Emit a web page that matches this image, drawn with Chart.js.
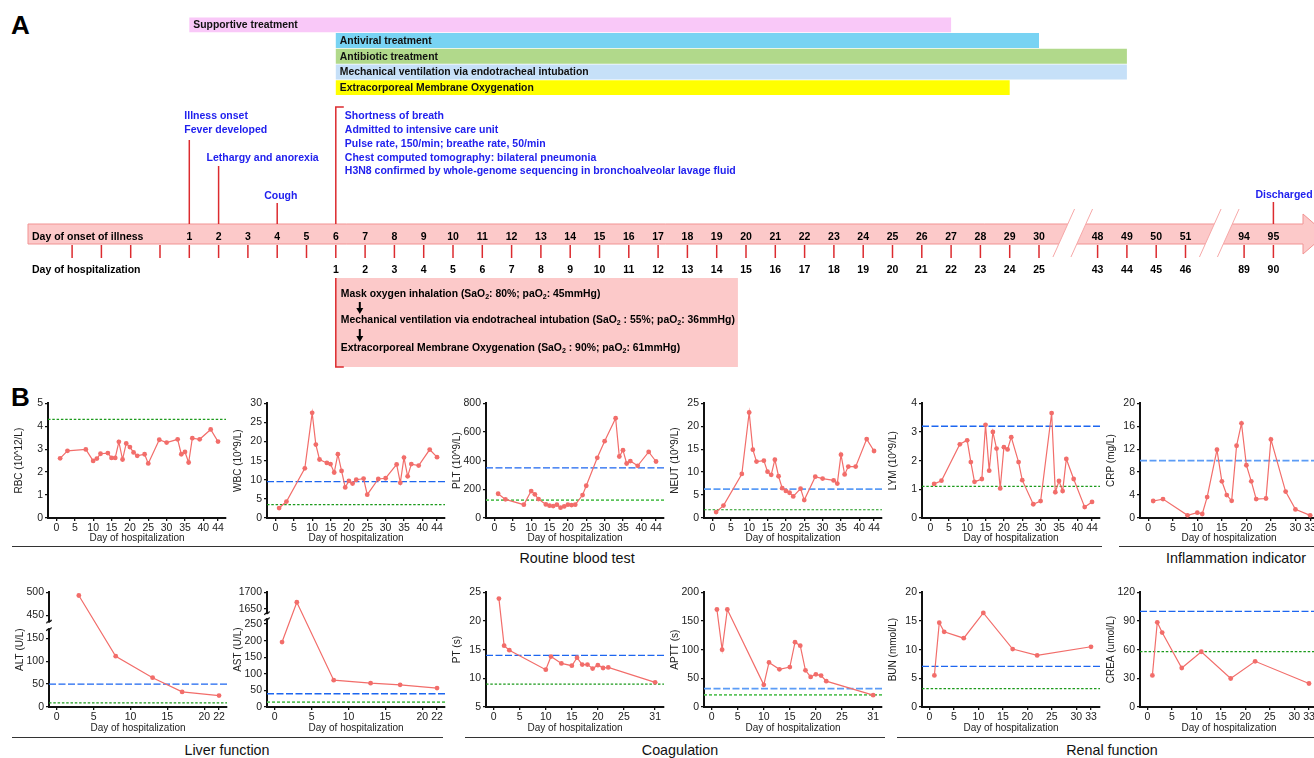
<!DOCTYPE html>
<html>
<head>
<meta charset="utf-8">
<title>H3N8 case: clinical course and laboratory findings</title>
<script src="https://cdn.jsdelivr.net/npm/chart.js"></script>
<style>
  body { margin: 0; width: 1314px; height: 758px; overflow: hidden; background: #fff; position: relative;
         font-family: "Liberation Sans", Arial, Helvetica, sans-serif; }
  canvas { position: absolute; }
  .tag { position: absolute; font-weight: bold; font-size: 26px; line-height: 26px; color: #000; }
  .sec { position: absolute; height: 0; border-top: 1.5px solid #333; }
  .sect { position: absolute; font-size: 14.3px; line-height: 16px; color: #111; white-space: nowrap; transform: translateX(-50%); }
</style>
</head>
<body>
<div class="tag" style="left:11px;top:12px">A</div>
<div class="tag" style="left:11px;top:384px">B</div>
<canvas id="timeline" width="1314" height="380" style="left:0;top:0"></canvas>

<div class="sec" style="left:12px;top:546px;width:1090px"></div>
<div class="sec" style="left:1119px;top:546px;width:195px"></div>
<div class="sect" style="left:577px;top:550px">Routine blood test</div>
<div class="sect" style="left:1236px;top:550px">Inflammation indicator</div>
<div class="sec" style="left:12px;top:737px;width:431px"></div>
<div class="sec" style="left:465px;top:737px;width:420px"></div>
<div class="sec" style="left:897px;top:737px;width:417px"></div>
<div class="sect" style="left:227px;top:742px">Liver function</div>
<div class="sect" style="left:680px;top:742px">Coagulation</div>
<div class="sect" style="left:1112px;top:742px">Renal function</div>

<script>
// ---------- Panel A: clinical course ----------
const treatLabels = ['Supportive treatment', 'Antiviral treatment', 'Antibiotic treatment',
  'Mechanical ventilation via endotracheal intubation', 'Extracorporeal Membrane Oxygenation'];
const treatStart = [1, 6, 6, 6, 6];        // day of onset
const treatEnd = [27, 30, 49, 49, 29];
const onsetDays = [1, 2, 3, 4, 5, 6, 7, 8, 9, 10, 11, 12, 13, 14, 15, 16, 17, 18, 19, 20,
  21, 22, 23, 24, 25, 26, 27, 28, 29, 30, 48, 49, 50, 51, 94, 95];
const preOnsetTicks = [-3, -2, -1, 0];
const admissionDay = 6;                    // onset day 6 = hospital day 1
const eventDays = [1, 2, 4, 6, 95];
const eventTexts = [
  ['Illness onset', 'Fever developed'],
  ['Lethargy and anorexia'],
  ['Cough'],
  ['Shortness of breath', 'Admitted to intensive care unit', 'Pulse rate, 150/min; breathe rate, 50/min',
   'Chest computed tomography: bilateral pneumonia',
   'H3N8 confirmed by whole-genome sequencing in bronchoalveolar lavage fluid'],
  ['Discharged']
];
const respSupport = [
  [['Mask oxygen inhalation (SaO'], ['2', 1], [': 80%; paO'], ['2', 1], [': 45mmHg)']],
  [['Mechanical ventilation via endotracheal intubation (SaO'], ['2', 1], [' : 55%; paO'], ['2', 1], [': 36mmHg)']],
  [['Extracorporeal Membrane Oxygenation (SaO'], ['2', 1], [' : 90%; paO'], ['2', 1], [': 61mmHg)']]
];

// ---------- Panel B: laboratory values (day of hospitalization) ----------
const bloodDays = [1, 3, 8, 10, 11, 12, 14, 15, 16, 17, 18, 19, 20, 21, 22, 24, 25, 28, 30, 33, 34, 35, 36, 37, 39, 42, 44];
const rbc  = [2.6, 2.93, 2.99, 2.49, 2.59, 2.8, 2.83, 2.62, 2.62, 3.32, 2.55, 3.25, 3.09, 2.86, 2.71, 2.78, 2.38, 3.41, 3.29, 3.43, 2.78, 2.88, 2.42, 3.48, 3.43, 3.86, 3.33];
const wbc  = [2.6, 4.3, 13.0, 27.5, 19.2, 15.3, 14.4, 14.1, 11.9, 16.7, 12.3, 8.0, 9.7, 9.0, 10.0, 10.3, 6.1, 10.2, 10.4, 14.0, 9.2, 15.8, 10.9, 14.1, 13.7, 17.9, 15.9];
const plt  = [169, 130, 93, 188, 165, 132, 95, 86, 83, 93, 72, 81, 93, 90, 93, 160, 225, 420, 536, 696, 429, 473, 380, 397, 364, 461, 394];
const neut = [1.3, 2.7, 9.6, 23.0, 14.9, 12.3, 12.5, 10.1, 9.4, 12.7, 9.1, 6.5, 5.9, 5.5, 4.7, 6.4, 3.9, 9.0, 8.6, 8.2, 7.5, 13.8, 9.5, 11.2, 11.2, 17.2, 14.6];
const lym  = [1.19, 1.30, 2.57, 2.71, 1.95, 1.26, 1.36, 3.25, 1.65, 3.00, 2.42, 1.03, 2.47, 2.39, 2.82, 1.95, 1.32, 0.48, 0.59, 3.66, 0.90, 1.29, 0.94, 2.06, 1.36, 0.38, 0.56];
const crpDays = [1, 3, 8, 10, 11, 12, 14, 15, 16, 17, 18, 19, 20, 21, 22, 24, 25, 28, 30, 33];
const crp  = [2.96, 3.3, 0.46, 0.93, 0.70, 3.65, 11.9, 6.4, 4.0, 3.0, 12.6, 16.5, 9.2, 6.4, 3.3, 3.4, 13.7, 4.6, 1.5, 0.46];
const altDays = [3, 8, 13, 17, 22];
const alt  = [493, 111, 64, 33, 25];
const astDays = [1, 3, 8, 13, 17, 22];
const ast  = [196, 1670, 81, 72, 67, 57];
const coagDays = [1, 2, 3, 10, 11, 13, 15, 16, 17, 18, 19, 20, 21, 22, 31];
const pt   = [23.9, 15.7, 14.9, 11.5, 13.8, 12.6, 12.2, 13.6, 12.4, 12.4, 11.7, 12.3, 11.8, 11.9, 9.3];
const aptt = [170, 100, 170, 38.6, 77.8, 65.7, 69.7, 113, 107, 64, 52.4, 57, 54.8, 45, 20.7];
const renalDays = [1, 2, 3, 7, 11, 17, 22, 33];
const bun  = [5.5, 14.7, 13.1, 12.0, 16.4, 10.1, 9.0, 10.5];
const crea = [33, 88.6, 77.9, 40.8, 57.8, 29.8, 47.8, 24.6];

// reference limits (upper / lower)
const rbcRef = [4.3], wbcRef = [9.5, 3.5], pltRef = [350, 125], neutRef = [6.3, 1.8], lymRef = [3.2, 1.1];
const crpRef = [10], altRef = [50, 9], astRef = [40, 15], ptRef = [14, 9], apttRef = [32, 21];
const bunRef = [7.1, 3.2], creaRef = [100, 58];

// tick labels
const ticks44 = [0, 5, 10, 15, 20, 25, 30, 35, 40, 44];
const ticks33 = [0, 5, 10, 15, 20, 25, 30, 33];
const ticks31 = [0, 5, 10, 15, 20, 25, 31];
const ticks22 = [0, 5, 10, 15, 20, 22];
const altTicks = [0, 50, 100, 150, 450, 500];
const astTicks = [0, 50, 100, 150, 200, 250, 1650, 1700];

const FONT = '"Liberation Sans", Arial, Helvetica, sans-serif';
Chart.defaults.font.family = FONT;
Chart.defaults.color = '#222';

// ---------- timeline ----------
// compressed onset axis: days 31-47 and 52-93 are cut out
function pos(d) { return d <= 30 ? d : d <= 51 ? d - 16 : d - 57; }
const TL_STEP = 29.3, TL_DAY1 = 189.3;
const TL_MIN = 1 - TL_DAY1 / TL_STEP, TL_MAX = TL_MIN + 1314 / TL_STEP;

function richText(ctx, segs, x, y, size) {
  segs.forEach(([t, sub]) => {
    ctx.font = 'bold ' + (sub ? size * 0.68 : size) + 'px ' + FONT;
    ctx.fillText(t, x, sub ? y + size * 0.3 : y);
    x += ctx.measureText(t).width;
  });
  return x;
}

function downArrow(ctx, x, y0, y1) {
  ctx.beginPath(); ctx.moveTo(x, y0); ctx.lineTo(x, y1 - 5); ctx.lineWidth = 2; ctx.strokeStyle = '#000'; ctx.stroke();
  ctx.beginPath(); ctx.moveTo(x - 3.5, y1 - 6); ctx.lineTo(x + 3.5, y1 - 6); ctx.lineTo(x, y1); ctx.closePath();
  ctx.fillStyle = '#000'; ctx.fill();
}

const timelinePlugin = {
  id: 'timeline',
  afterDatasetsDraw(chart) {
    const ctx = chart.ctx, sx = chart.scales.x;
    const X = d => sx.getPixelForValue(pos(d));
    const RED = '#dc2b2f', BLUE = '#2121ee';
    ctx.save();
    ctx.textBaseline = 'middle';

    // treatment labels
    ctx.font = 'bold 10.4px ' + FONT; ctx.fillStyle = '#111'; ctx.textAlign = 'left';
    chart.getDatasetMeta(0).data.forEach((bar, i) => {
      ctx.fillText(treatLabels[i], Math.min(bar.x, bar.base) + 4, bar.y + 0.5);
    });

    // arrow band
    const bt = 224, bb = 244, bl = 28, br = 1303;
    ctx.beginPath();
    ctx.moveTo(bl, bt); ctx.lineTo(br, bt); ctx.lineTo(br, 214); ctx.lineTo(1326, 234);
    ctx.lineTo(br, 254); ctx.lineTo(br, bb); ctx.lineTo(bl, bb); ctx.closePath();
    ctx.fillStyle = '#fcc9c9'; ctx.fill();
    ctx.strokeStyle = '#f19393'; ctx.lineWidth = 1; ctx.stroke();

    // axis breaks
    [[30, 48], [51, 94]].forEach(([a, b]) => {
      const cx = (X(a) + X(b)) / 2 + 4;
      const xl = y => cx - 9 + (234 - y) * 0.45, xr = y => cx + 9 + (234 - y) * 0.45;
      ctx.beginPath();
      ctx.moveTo(xl(220), 220); ctx.lineTo(xr(220), 220); ctx.lineTo(xr(248), 248); ctx.lineTo(xl(248), 248);
      ctx.closePath(); ctx.fillStyle = '#fff'; ctx.fill();
      ctx.strokeStyle = '#f6a8a8'; ctx.lineWidth = 1;
      [xl, xr].forEach(f => { ctx.beginPath(); ctx.moveTo(f(257), 257); ctx.lineTo(f(209), 209); ctx.stroke(); });
    });

    // ticks below band
    ctx.strokeStyle = RED; ctx.lineWidth = 1.5;
    preOnsetTicks.concat(onsetDays).forEach(d => {
      ctx.beginPath(); ctx.moveTo(X(d), 245); ctx.lineTo(X(d), 258); ctx.stroke();
    });

    // day labels
    ctx.fillStyle = '#000'; ctx.font = 'bold 10.5px ' + FONT;
    ctx.textAlign = 'left';
    ctx.fillText('Day of onset of illness', 32, 236.7);
    ctx.fillText('Day of hospitalization', 32, 270.5);
    ctx.textAlign = 'center';
    onsetDays.forEach(d => {
      ctx.fillText(String(d), X(d), 236.7);
      if (d >= admissionDay) ctx.fillText(String(d - admissionDay + 1), X(d), 270.5);
    });

    // events
    const evLayout = [
      { top: 140, dx: -5, ty: 116 }, { top: 166, dx: -12, ty: 157.7 }, { top: 203, dx: -13, ty: 196 },
      { top: 107, dx: 9, ty: 116, bracket: true }, { top: 202, dx: -18, ty: 195 }
    ];
    eventDays.forEach((d, i) => {
      const x = X(d), L = evLayout[i];
      ctx.strokeStyle = RED; ctx.lineWidth = 1.5;
      ctx.beginPath();
      if (L.bracket) { ctx.moveTo(x + 8, L.top); ctx.lineTo(x, L.top); } else ctx.moveTo(x, L.top);
      ctx.lineTo(x, bt); ctx.stroke();
      ctx.fillStyle = BLUE; ctx.font = 'bold 10.5px ' + FONT; ctx.textAlign = 'left';
      eventTexts[i].forEach((t, j) => ctx.fillText(t, x + L.dx, L.ty + j * 13.9));
    });

    // respiratory support box
    const x6 = X(admissionDay), boxTop = 278, boxBot = 367, tx = x6 + 5;
    let wMax = 0;
    respSupport.forEach(line => {
      let w = 0;
      line.forEach(([t, sub]) => { ctx.font = 'bold ' + (sub ? 10.4 * 0.68 : 10.4) + 'px ' + FONT; w += ctx.measureText(t).width; });
      wMax = Math.max(wMax, w);
    });
    ctx.fillStyle = '#fcc9c9';
    ctx.fillRect(x6, boxTop, tx + wMax + 3 - x6, boxBot - boxTop);
    ctx.strokeStyle = RED; ctx.lineWidth = 1.5;
    ctx.beginPath(); ctx.moveTo(x6, boxTop); ctx.lineTo(x6, boxBot); ctx.lineTo(x6 + 8, boxBot); ctx.stroke();
    ctx.textAlign = 'left';
    const rows = [294, 320, 347.7];
    respSupport.forEach((line, i) => { ctx.fillStyle = '#000'; richText(ctx, line, tx, rows[i], 10.4); });
    downArrow(ctx, tx + 19, 302, 314);
    downArrow(ctx, tx + 19, 329, 342);
    ctx.restore();
  }
};

new Chart(document.getElementById('timeline'), {
  type: 'bar',
  data: {
    labels: treatLabels,
    datasets: [{
      data: treatStart.map((s, i) => [pos(s), pos(treatEnd[i])]),
      backgroundColor: ['#f9c8f8', '#78d3f3', '#b1d98b', '#c6e0f8', '#ffff00'],
      borderWidth: 0, barPercentage: 0.95, categoryPercentage: 1
    }]
  },
  options: {
    indexAxis: 'y', responsive: false, animation: false, events: [],
    layout: { padding: { top: 17, bottom: 380 - 95.5, left: 0, right: 0 } },
    scales: {
      x: { type: 'linear', min: TL_MIN, max: TL_MAX, display: false },
      y: { display: false }
    },
    plugins: { legend: { display: false }, tooltip: { enabled: false } }
  },
  plugins: [timelinePlugin]
});

// ---------- broken linear scale for ALT / AST ----------
class BrokenScale extends Chart.LinearScale {
  _k() {
    const b = this.options.brk;
    return (this.bottom - this.top - b.gap) / ((b.low - this.min) + (this.max - b.high));
  }
  getPixelForValue(v) {
    const b = this.options.brk, k = this._k();
    if (v <= b.low) return this.bottom - (v - this.min) * k;
    if (v >= b.high) return this.top + (this.max - v) * k;
    return this.bottom - (b.low - this.min) * k - b.gap / 2;
  }
  getValueForPixel(p) {
    const b = this.options.brk, k = this._k();
    const yLo = this.bottom - (b.low - this.min) * k;
    return p >= yLo ? this.min + (this.bottom - p) / k : this.max - (p - this.top) / k;
  }
}
BrokenScale.id = 'broken';
BrokenScale.defaults = Chart.LinearScale.defaults;
Chart.register(BrokenScale);

const breakMarks = {
  id: 'breakMarks',
  afterDraw(chart) {
    const s = chart.scales.y;
    if (s.type !== 'broken') return;
    const b = s.options.brk, k = s._k();
    const yUp = s.top + (s.max - b.high) * k, yLo = s.bottom - (b.low - s.min) * k;
    const ctx = chart.ctx, x = chart.chartArea.left;
    ctx.save();
    ctx.fillStyle = '#fff';
    ctx.fillRect(x - 3, yUp + 1, 6, yLo - yUp - 2);
    ctx.strokeStyle = '#111'; ctx.lineWidth = 1.3;
    [yUp, yLo].forEach(y => {
      ctx.beginPath(); ctx.moveTo(x - 2.5, y + 1.8);
      ctx.bezierCurveTo(x - 1, y - 2.5, x + 1, y + 2.5, x + 2.5, y - 1.8); ctx.stroke();
    });
    ctx.restore();
  }
};

// ---------- lab panels ----------
const SERIES = '#f26d6a';
const REF_STYLE = {
  blue:   { color: '#1d66f0', dash: [7, 2.5], width: 1.3 },
  lblue:  { color: '#5b9cf6', dash: [7, 2.5], width: 1.8 },
  green:  { color: '#1c9a1c', dash: [2.5, 1.8], width: 1.2 },
  lgreen: { color: '#5cc45c', dash: [3, 2], width: 1.8 }
};
const ROWS = { 1: { top: 395, xh: 26 }, 2: { top: 584, xh: 27 } };
const YW = 47, PW = 178, PH = 115, PAD_T = 8, PAD_R = 8;

function labPanel(c) {
  const row = ROWS[c.row];
  const cv = document.createElement('canvas');
  cv.width = YW + PW + PAD_R; cv.height = PAD_T + PH + row.xh;
  cv.style.left = c.left + 'px'; cv.style.top = row.top + 'px';
  document.body.appendChild(cv);

  const datasets = c.refs.map((v, i) => {
    const st = REF_STYLE[c.refKinds[i]];
    return { data: [{ x: c.xr[0], y: v }, { x: c.xr[1], y: v }], borderColor: st.color, borderDash: st.dash,
             borderWidth: st.width, pointRadius: 0, order: 2 };
  });
  datasets.push({ data: c.xs.map((x, i) => ({ x, y: c.ys[i] })), borderColor: SERIES, backgroundColor: SERIES,
                  borderWidth: 1.2, pointRadius: 2.4, pointBorderWidth: 0, tension: 0, order: 1 });

  const axisCommon = {
    border: { display: true, color: '#111', width: 2 },
    grid: { drawOnChartArea: false, drawTicks: true, tickLength: 3, color: '#111', lineWidth: 1.3 }
  };
  const y = Object.assign({}, axisCommon, {
    type: c.y.brk ? 'broken' : 'linear', min: c.y.min, max: c.y.max,
    ticks: { stepSize: c.y.step, font: { size: 10.5 }, color: '#222', padding: 2, callback: v => String(v) },
    title: { display: true, text: c.title, font: { size: 10 }, color: '#222', padding: { top: 12.4, bottom: 0 } },
    afterFit: s => { s.width = YW; }
  });
  if (c.y.brk) {
    y.brk = c.y.brk;
    y.afterBuildTicks = s => { s.ticks = c.y.ticks.map(v => ({ value: v })); };
  }
  const x = Object.assign({}, axisCommon, {
    type: 'linear', min: c.xr[0], max: c.xr[1],
    afterBuildTicks: s => { s.ticks = c.xTicks.map(v => ({ value: v })); },
    ticks: { font: { size: 10.5 }, color: '#222', padding: 1, autoSkip: false, maxRotation: 0, callback: v => String(v) },
    title: { display: true, text: 'Day of hospitalization', font: { size: 10 }, color: '#222', padding: 0 },
    afterFit: s => { s.height = row.xh; }
  });

  new Chart(cv, {
    type: 'line',
    data: { datasets },
    options: {
      responsive: false, animation: false, events: [],
      layout: { padding: { top: PAD_T, right: PAD_R, left: 0, bottom: 0 } },
      scales: { x, y },
      plugins: { legend: { display: false }, tooltip: { enabled: false } }
    },
    plugins: [breakMarks]
  });
}

const X44 = [-2.3, 46.17], X33a = [-1.69, 34.6], X22 = [-1.04, 23.08], X31 = [-1.48, 32.7], X33 = [-1.53, 34.84];
[
  { row: 1, left: 1,    xs: bloodDays, ys: rbc,  refs: rbcRef,  refKinds: ['green'], xr: X44, xTicks: ticks44, y: { min: 0, max: 5, step: 1 }, title: 'RBC (10^12/L)' },
  { row: 1, left: 220,  xs: bloodDays, ys: wbc,  refs: wbcRef,  refKinds: ['blue', 'green'], xr: X44, xTicks: ticks44, y: { min: 0, max: 30, step: 5 }, title: 'WBC (10^9/L)' },
  { row: 1, left: 439,  xs: bloodDays, ys: plt,  refs: pltRef,  refKinds: ['blue', 'lgreen'], xr: X44, xTicks: ticks44, y: { min: 0, max: 800, step: 200 }, title: 'PLT (10^9/L)' },
  { row: 1, left: 657,  xs: bloodDays, ys: neut, refs: neutRef, refKinds: ['lblue', 'green'], xr: X44, xTicks: ticks44, y: { min: 0, max: 25, step: 5 }, title: 'NEUT (10^9/L)' },
  { row: 1, left: 875,  xs: bloodDays, ys: lym,  refs: lymRef,  refKinds: ['blue', 'green'], xr: X44, xTicks: ticks44, y: { min: 0, max: 4, step: 1 }, title: 'LYM (10^9/L)' },
  { row: 1, left: 1093, xs: crpDays,   ys: crp,  refs: crpRef,  refKinds: ['lblue'], xr: X33a, xTicks: ticks33, y: { min: 0, max: 20, step: 4 }, title: 'CRP (mg/L)' },
  { row: 2, left: 2,    xs: altDays,   ys: alt,  refs: altRef,  refKinds: ['blue', 'green'], xr: X22, xTicks: ticks22,
    y: { min: 0, max: 500, brk: { low: 170, high: 436, gap: 7.6 }, ticks: altTicks }, title: 'ALT (U/L)' },
  { row: 2, left: 220,  xs: astDays,   ys: ast,  refs: astRef,  refKinds: ['blue', 'lgreen'], xr: X22, xTicks: ticks22,
    y: { min: 0, max: 1700, brk: { low: 265, high: 1637, gap: 6 }, ticks: astTicks }, title: 'AST (U/L)' },
  { row: 2, left: 439,  xs: coagDays,  ys: pt,   refs: ptRef,   refKinds: ['blue', 'green'], xr: X31, xTicks: ticks31, y: { min: 5, max: 25, step: 5 }, title: 'PT (s)' },
  { row: 2, left: 657,  xs: coagDays,  ys: aptt, refs: apttRef, refKinds: ['lblue', 'lgreen'], xr: X31, xTicks: ticks31, y: { min: 0, max: 200, step: 50 }, title: 'APTT (s)' },
  { row: 2, left: 875,  xs: renalDays, ys: bun,  refs: bunRef,  refKinds: ['blue', 'green'], xr: X33, xTicks: ticks33, y: { min: 0, max: 20, step: 5 }, title: 'BUN (mmol/L)' },
  { row: 2, left: 1093, xs: renalDays, ys: crea, refs: creaRef, refKinds: ['blue', 'green'], xr: X33, xTicks: ticks33, y: { min: 0, max: 120, step: 30 }, title: 'CREA (umol/L)' }
].forEach(labPanel);
</script>
</body>
</html>
